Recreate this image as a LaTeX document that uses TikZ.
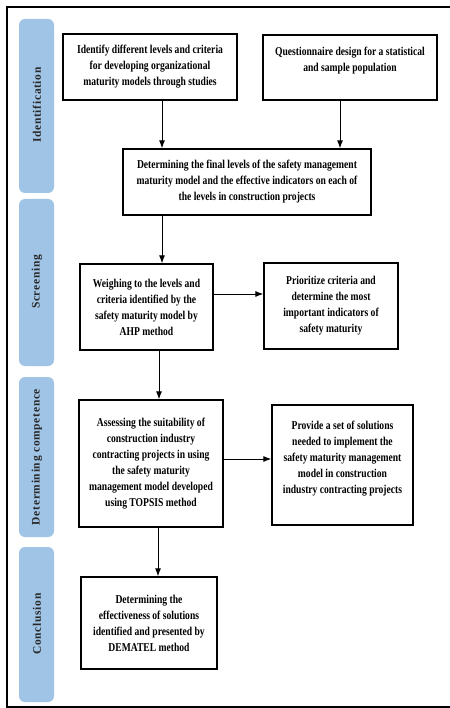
\documentclass[tikz,border=0pt]{standalone}
\usepackage{fontspec}
\usetikzlibrary{arrows.meta}
\newfontfamily\boxfont{Liberation Serif}[FakeStretch=0.8]
\newfontfamily\labfont{Liberation Serif}[LetterSpace=6]
\definecolor{barblue}{RGB}{160,196,230}
\definecolor{labgray}{RGB}{40,40,40}
\tikzset{
  stagebar/.style={fill=barblue, draw=none, rounded corners=6pt},
  stagelabel/.style={rotate=90, text=labgray, font=\labfont\bfseries\fontsize{11.5}{13}\selectfont},
  flowbox/.style={draw=black, line width=1.3pt, fill=white, align=center, inner sep=0pt,
    font=\boxfont\bfseries\fontsize{12}{16}\selectfont},
  arr/.style={draw=black, line width=1pt, -{Latex[length=8pt,width=6pt]}},
}
\begin{document}
\begin{tikzpicture}[x=1pt,y=-1pt]
\useasboundingbox (0,0) rectangle (449,708);
\fill[white] (0,0) rectangle (449,708);
% outer frame
\draw[line width=1.4pt] (460,7) -- (7,7) -- (7,707) -- (460,707);
% stage bars
\fill[stagebar] (19,19) rectangle (54,193);
\fill[stagebar] (19,199) rectangle (54,366);
\fill[stagebar] (19,377) rectangle (54,537);
\fill[stagebar] (19,547) rectangle (54,702);
\node[stagelabel] (l1) at (37,105) {Identification};
\node[stagelabel] (l2) at (37,282) {Screening};
\node[stagelabel] (l3) at (37,457) {Determining competence};
\node[stagelabel] (l4) at (37,624) {Conclusion};
% boxes
\node[flowbox, minimum width=174pt, minimum height=66pt] (A) at (150,67)
  {Identify different levels and criteria\\for developing organizational\\maturity models through studies};
\node[flowbox, minimum width=174pt, minimum height=65pt] (B) at (350,67.5)
  {Questionnaire design for a statistical\\and sample population\\\mbox{}};
\node[flowbox, minimum width=248pt, minimum height=66pt] (C) at (247,182)
  {Determining the final levels of the safety management\\maturity model and the effective indicators on each of\\the levels in construction projects};
\node[flowbox, minimum width=133pt, minimum height=86pt] (D) at (146.5,307)
  {Weighing to the levels and\\criteria identified by the\\safety maturity model by\\AHP method};
\node[flowbox, minimum width=134pt, minimum height=86pt] (E) at (331,306)
  {Prioritize criteria and\\determine the most\\important indicators of\\safety maturity};
\node[flowbox, minimum width=144pt, minimum height=127pt] (F) at (151,463.5)
  {Assessing the suitability of\\construction industry\\contracting projects in using\\the safety maturity\\management model developed\\using TOPSIS method};
\node[flowbox, minimum width=141pt, minimum height=120pt] (G) at (342.5,465)
  {Provide a set of solutions\\needed to implement the\\safety maturity management\\model in construction\\industry contracting projects\\\mbox{}};
\node[flowbox, minimum width=136pt, minimum height=92pt] (H) at (149,623)
  {Determining the\\effectiveness of solutions\\identified and presented by\\DEMATEL method};
% connector guides
\coordinate (xa) at (162,0);
\coordinate (xb) at (340,0);
\coordinate (xd) at (159,0);
\coordinate (xf) at (158,0);
\coordinate (yde) at (0,294);
\coordinate (yfg) at (0,459);
% connectors
\draw[arr] (A.south -| xa) -- (C.north -| xa);
\draw[arr] (B.south -| xb) -- (C.north -| xb);
\draw[arr] (C.south -| xa) -- (D.north -| xa);
\draw[arr] (D.east |- yde) -- (E.west |- yde);
\draw[arr] (D.south -| xd) -- (F.north -| xd);
\draw[arr] (F.east |- yfg) -- (G.west |- yfg);
\draw[arr] (F.south -| xf) -- (H.north -| xf);
\end{tikzpicture}
\end{document}
